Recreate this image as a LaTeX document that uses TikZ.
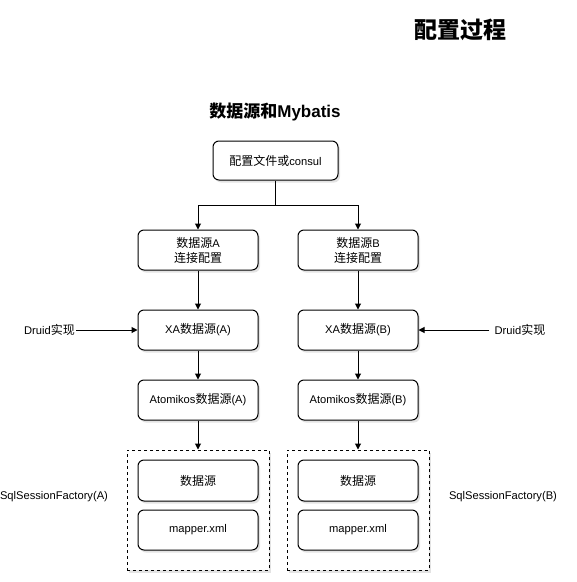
\documentclass[tikz,border=0pt]{standalone}
\usepackage{fontspec}
\setmainfont{Liberation Sans}
\newfontfamily\lat{Liberation Sans}[Scale=0.93]
\newfontfamily\cjk{Noto Sans CJK SC}
\usetikzlibrary{arrows.meta,shadows}
\tikzset{
  box/.style={draw=black, line width=1pt, rounded corners=6pt, fill=white,
    minimum width=120pt, minimum height=40pt, align=center, inner sep=1pt,
    font=\lat\fontsize{12}{15}\selectfont,
    drop shadow={opacity=0.22, shadow xshift=2pt, shadow yshift=-2.5pt}},
  group/.style={draw=black, line width=1pt, dashed, fill=white,
    minimum width=142pt, minimum height=120pt,
    drop shadow={opacity=0.22, shadow xshift=2pt, shadow yshift=-2.5pt}},
  lbl/.style={font=\lat\fontsize{12}{15}\selectfont, inner sep=1pt},
  arr/.style={line width=1pt, -{Triangle[length=6pt,width=6pt]}}
}
\begin{document}
\begin{tikzpicture}[x=1pt,y=-1pt]
\useasboundingbox (0,0) rectangle (577,582);

\node[font=\fontsize{23}{26}\selectfont\bfseries\cjk] (title) at (460.5,30) {配置过程};
\node[font=\fontsize{17}{20}\selectfont\bfseries] (sub) at (275,112) {{\cjk 数据源和}Mybatis};

\node[box, minimum width=125pt, minimum height=39pt] (top) at (275.5,160.5) {{\cjk 配置文件或}consul};

\node[box] (a1) at (198,250) {{\cjk 数据源}A\\{\cjk 连接配置}};
\node[box] (b1) at (358,250) {{\cjk 数据源}B\\{\cjk 连接配置}};

\node[box] (a2) at (198,330) {XA{\cjk 数据源}(A)};
\node[box] (b2) at (358,330) {XA{\cjk 数据源}(B)};

\node[box] (a3) at (198,400) {Atomikos{\cjk 数据源}(A)};
\node[box] (b3) at (358,400) {Atomikos{\cjk 数据源}(B)};

\node[group] (ga) at (198,510) {};
\node[group] (gb) at (358,510) {};

\node[box, minimum height=41pt] (a4) at (198,480.5) {\cjk 数据源};
\node[box] (a5) at (198,530) {mapper.xml};
\node[box, minimum height=41pt] (b4) at (358,480.5) {\cjk 数据源};
\node[box] (b5) at (358,530) {mapper.xml};

\node[lbl] (dla) at (49.5,330) {Druid{\cjk 实现}};
\node[lbl] (dlb) at (520,330) {Druid{\cjk 实现}};
\node[lbl] (sfa) at (54,497) {SqlSessionFactory(A)};
\node[lbl] (sfb) at (503,497) {SqlSessionFactory(B)};

\coordinate (j) at (275.5,205);
\draw[arr] (top.south) -- (j) -| (a1.north);
\draw[arr] (j) -| (b1.north);
\draw[arr] (a1) -- (a2);
\draw[arr] (b1) -- (b2);
\draw[arr] (a2) -- (a3);
\draw[arr] (b2) -- (b3);
\draw[arr] (a3) -- (ga.north);
\draw[arr] (b3) -- (gb.north);
\draw[arr] (dla.east) -- (a2.west);
\draw[arr] ([xshift=-4pt]dlb.west) -- (b2.east);
\end{tikzpicture}
\end{document}
